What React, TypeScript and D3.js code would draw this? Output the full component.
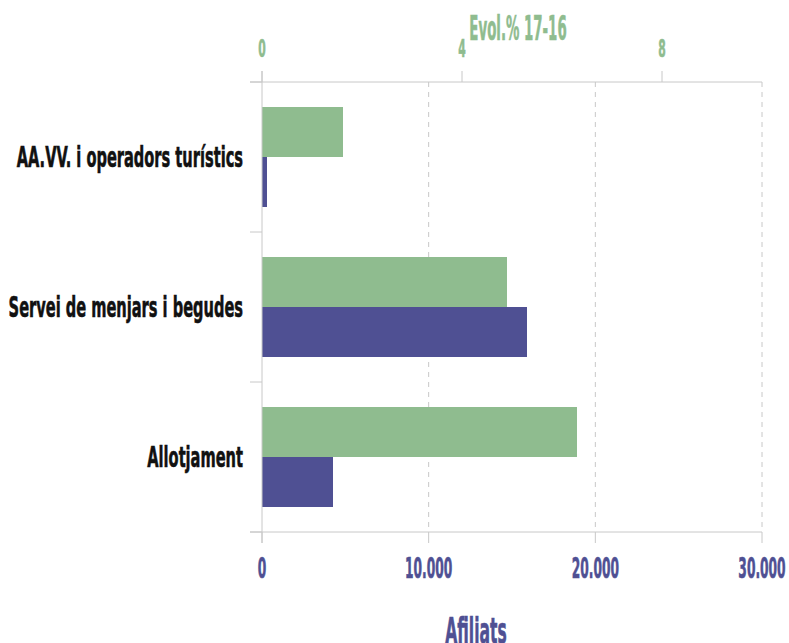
import { useEffect, useRef } from "react";
import * as d3 from "d3";

// ── Data ──────────────────────────────────────────────────────────────────────
const categories = [
  "AA.VV. i operadors turístics",
  "Servei de menjars i begudes",
  "Allotjament",
];
const evolPct = [1.62, 4.9, 6.3]; // Evol.% 17-16 (top axis)
const afiliats = [300, 15900, 4260]; // Afiliats (bottom axis)
const bottomTicks = [0, 10000, 20000, 30000];
const topTicks = [0, 4, 8];

const GREEN = "#8fbc8f";
const PURPLE = "#4f5093";
const GRID = "#c8c8c8";
const FONT = "'Liberation Sans Narrow', 'DejaVu Sans Condensed', 'Roboto', sans-serif";

export default function App() {
  const svgRef = useRef<SVGSVGElement>(null);

  useEffect(() => {
    if (!svgRef.current) return;
    const width = 789;
    const height = 643;
    const margin = { top: 82, right: 27, bottom: 111, left: 262 };

    const svg = d3.select(svgRef.current);
    svg.selectAll("*").remove();

    const xBottom = d3.scaleLinear().domain([0, 30000]).range([margin.left, width - margin.right]);
    const xTop = d3.scaleLinear().domain([0, 10]).range([margin.left, width - margin.right]);
    const y = d3.scaleBand().domain(categories).range([margin.top, height - margin.bottom]);
    const sub = d3.scaleBand().domain(["evol", "afil"]).range([0, y.bandwidth()]).paddingOuter(0.5);

    const fmt = (d: number) => d3.format(",")(d).replace(/,/g, ".");

    // condensed bold text: squeezed horizontally to mimic the narrow display face
    const label = (
      g: d3.Selection<any, any, any, any>,
      x: number,
      yy: number,
      text: string,
      size: number,
      fill: string,
      anchor: string,
      sx: number
    ) =>
      g
        .append("text")
        .attr("transform", `translate(${x},${yy}) scale(${sx},1)`)
        .attr("font-family", FONT)
        .attr("font-weight", "bold")
        .attr("font-size", size)
        .attr("fill", fill)
        .attr("stroke", fill)
        .attr("stroke-width", 0.6)
        .attr("text-anchor", anchor)
        .text(text);

    // ── Gridlines ──────────────────────────────────────────────────────────
    svg
      .append("g")
      .selectAll("line")
      .data(bottomTicks.slice(1))
      .enter()
      .append("line")
      .attr("x1", (d) => xBottom(d))
      .attr("x2", (d) => xBottom(d))
      .attr("y1", margin.top)
      .attr("y2", height - margin.bottom)
      .attr("stroke", GRID)
      .attr("stroke-dasharray", "5 5");

    // ── Bars ───────────────────────────────────────────────────────────────
    const bars = svg.append("g");
    bars
      .selectAll(".evol")
      .data(categories)
      .enter()
      .append("rect")
      .attr("x", xTop(0))
      .attr("y", (d) => (y(d) as number) + (sub("evol") as number))
      .attr("width", (_, i) => xTop(evolPct[i]) - xTop(0))
      .attr("height", sub.bandwidth())
      .attr("fill", GREEN);
    bars
      .selectAll(".afil")
      .data(categories)
      .enter()
      .append("rect")
      .attr("x", xBottom(0))
      .attr("y", (d) => (y(d) as number) + (sub("afil") as number))
      .attr("width", (_, i) => xBottom(afiliats[i]) - xBottom(0))
      .attr("height", sub.bandwidth())
      .attr("fill", PURPLE);

    // ── Left axis ──────────────────────────────────────────────────────────
    const left = svg.append("g");
    left
      .append("line")
      .attr("x1", margin.left)
      .attr("x2", margin.left)
      .attr("y1", margin.top - 11)
      .attr("y2", height - margin.bottom + 11)
      .attr("stroke", GRID);
    const bounds = [...categories.map((c) => y(c) as number), height - margin.bottom];
    left
      .selectAll(".tk")
      .data(bounds)
      .enter()
      .append("line")
      .attr("x1", margin.left - 12)
      .attr("x2", margin.left)
      .attr("y1", (d) => d)
      .attr("y2", (d) => d)
      .attr("stroke", GRID);
    categories.forEach((c) => {
      label(left, margin.left - 19, (y(c) as number) + y.bandwidth() / 2 + 10, c, 29, "#111", "end", 0.56);
    });

    // ── Top axis ───────────────────────────────────────────────────────────
    const top = svg.append("g");
    top
      .append("line")
      .attr("x1", margin.left - 12)
      .attr("x2", width - margin.right)
      .attr("y1", margin.top)
      .attr("y2", margin.top)
      .attr("stroke", GRID);
    topTicks.forEach((t) => {
      top
        .append("line")
        .attr("x1", xTop(t))
        .attr("x2", xTop(t))
        .attr("y1", margin.top - 11)
        .attr("y2", margin.top)
        .attr("stroke", GRID);
      label(top, xTop(t), 57, String(t), 24, GREEN, "middle", 0.5);
    });
    label(top, 518, 40, "Evol.% 17-16", 33, GREEN, "middle", 0.45);

    // ── Bottom axis ────────────────────────────────────────────────────────
    const bottom = svg.append("g");
    const by = height - margin.bottom;
    bottom
      .append("line")
      .attr("x1", margin.left - 12)
      .attr("x2", width - margin.right)
      .attr("y1", by)
      .attr("y2", by)
      .attr("stroke", GRID);
    bottomTicks.forEach((t) => {
      bottom
        .append("line")
        .attr("x1", xBottom(t))
        .attr("x2", xBottom(t))
        .attr("y1", by)
        .attr("y2", by + 11)
        .attr("stroke", GRID);
      label(bottom, xBottom(t), 578, fmt(t), 29, PURPLE, "middle", 0.47);
    });
    label(bottom, 476, 643, "Afiliats", 36, PURPLE, "middle", 0.48);
  }, []);

  return (
    <svg
      ref={svgRef}
      width={789}
      height={643}
      style={{ position: "absolute", left: 0, top: 0, background: "#fff" }}
    />
  );
}
